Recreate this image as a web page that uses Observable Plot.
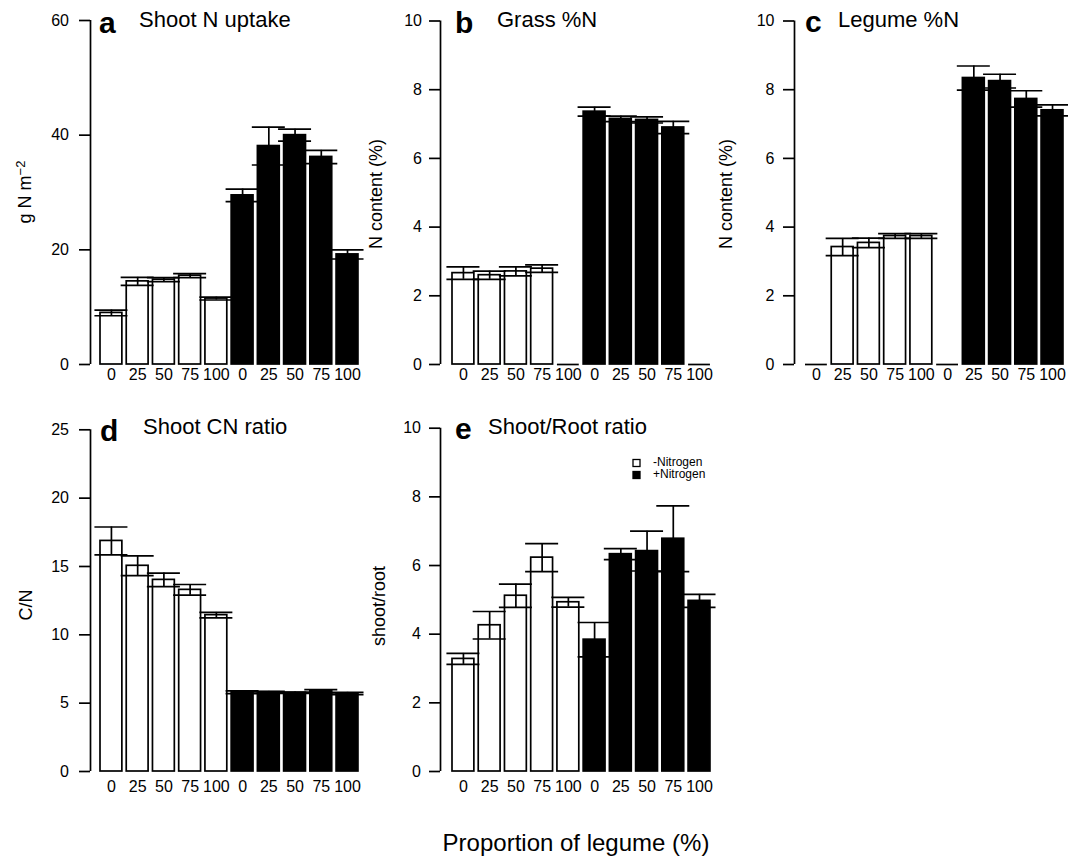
<!DOCTYPE html>
<html>
<head>
<meta charset="utf-8">
<script src="https://cdn.jsdelivr.net/npm/d3@7"></script>
<script src="https://cdn.jsdelivr.net/npm/@observablehq/plot@0.6"></script>
<style>
  body { margin: 0; background: #fff; }
  #wrap { position: relative; width: 1068px; height: 858px; overflow: hidden; background: #fff; }
</style>
</head>
<body>
<div id="wrap"></div>
<script>
// ---------- data ----------
const legume = ["0", "25", "50", "75", "100"];
const nitrogen = ["-Nitrogen", "+Nitrogen"];

// a: Shoot N uptake (g N m-2)
const uptakeMean = [9.0, 14.5, 14.8, 15.5, 11.5, 29.5, 38.1, 40.0, 36.2, 19.2];
const uptakeSE   = [0.5, 0.7, 0.35, 0.35, 0.25, 1.1, 3.3, 1.05, 1.15, 0.8];
// b: Grass %N
const grassMean = [2.66, 2.60, 2.71, 2.79, 0, 7.36, 7.15, 7.12, 6.90, 0];
const grassSE   = [0.18, 0.12, 0.13, 0.11, null, 0.13, 0.08, 0.09, 0.18, null];
// c: Legume %N
const legMean = [0, 3.42, 3.54, 3.74, 3.74, 0, 8.34, 8.25, 7.73, 7.40];
const legSE   = [null, 0.25, 0.14, 0.07, 0.07, null, 0.35, 0.20, 0.24, 0.16];
// d: Shoot C/N ratio
const cnMean = [16.87, 15.05, 14.02, 13.29, 11.44, 5.80, 5.80, 5.76, 5.87, 5.71];
const cnSE   = [1.02, 0.72, 0.50, 0.39, 0.20, 0.10, 0.06, 0.05, 0.12, 0.08];
// e: Shoot/Root ratio
const srMean = [3.28, 4.26, 5.12, 6.23, 4.93, 3.84, 6.33, 6.42, 6.78, 4.97];
const srSE   = [0.16, 0.40, 0.34, 0.41, 0.14, 0.50, 0.16, 0.58, 0.96, 0.19];

const ticksA = [0, 20, 40, 60];
const ticksPct = [0, 2, 4, 6, 8, 10];
const ticksCN = [0, 5, 10, 15, 20, 25];

// ---------- drawing ----------
const fontFam = "'Liberation Sans', Arial, Helvetica, sans-serif";
const wrap = document.getElementById("wrap");
const ppu = 21.86; // pixels per barplot unit (bar width 1, space 0.2)
const LW = 1.7;

function panel(p) {
  const rows = d3.range(10).map(i => ({
    label: legume[i % 5],
    group: i < 5 ? nitrogen[0] : nitrogen[1],
    x1: 0.2 + 1.2 * i, x2: 1.2 + 1.2 * i, c: 0.7 + 1.2 * i,
    mean: p.means[i], se: p.ses[i]
  }));
  const bars = rows.filter(d => d.mean > 0);
  const zeros = rows.filter(d => d.mean === 0);
  const err = rows.filter(d => d.se != null);
  const r0 = p.bar0Left - p.svgLeft;
  const xAxisVal = 0.2 - (p.bar0Left - p.axisX) / ppu;
  const centers = rows.map(d => d.c);
  const chart = Plot.plot({
    width: p.width,
    height: p.height,
    marginLeft: p.axisX - p.svgLeft,
    marginRight: 0,
    marginTop: p.yTop - p.svgTop,
    marginBottom: p.svgTop + p.height - p.y0,
    x: {domain: [0.2, 12.0], range: [r0, r0 + 11.8 * ppu]},
    y: {domain: [0, p.ymax]},
    color: {domain: nitrogen, range: ["white", "black"]},
    style: {background: "transparent", overflow: "visible", fontFamily: fontFam, fontSize: "16px", color: "black"},
    marks: [
      Plot.rect(bars, {x1: "x1", x2: "x2", y1: 0, y2: "mean", fill: "group", stroke: "black", strokeWidth: LW}),
      Plot.ruleY(zeros, {x1: "x1", x2: "x2", y: 0, stroke: "black", strokeWidth: LW}),
      Plot.ruleX(err, {x: "c", y1: d => d.mean - d.se, y2: d => d.mean + d.se, stroke: "black", strokeWidth: LW}),
      Plot.ruleY(err, {x1: d => d.c - 0.755, x2: d => d.c + 0.755, y: d => d.mean + d.se, stroke: "black", strokeWidth: LW}),
      Plot.ruleY(err, {x1: d => d.c - 0.755, x2: d => d.c + 0.755, y: d => d.mean - d.se, stroke: "black", strokeWidth: LW}),
      Plot.ruleX([xAxisVal], {y1: 0, y2: p.ymax, stroke: "black", strokeWidth: LW}),
      Plot.axisY({ticks: p.ticks, tickSize: 11, tickPadding: p.yPad, strokeWidth: LW, label: null, fill: "black"}),
      Plot.axisX({ticks: centers, tickFormat: c => rows[Math.round((c - 0.7) / 1.2)].label, tickSize: 0, tickPadding: p.xPad, label: null, fill: "black"})
    ]
  });
  chart.style.position = "absolute";
  chart.style.left = p.svgLeft + "px";
  chart.style.top = p.svgTop + "px";
  wrap.appendChild(chart);
}

panel({svgLeft: 0, svgTop: 0, width: 375, height: 400, axisX: 90, bar0Left: 100, yTop: 20, y0: 364,
       ymax: 60, ticks: ticksA, means: uptakeMean, ses: uptakeSE, yPad: 10.5, xPad: 4});
panel({svgLeft: 375, svgTop: 0, width: 345, height: 400, axisX: 440, bar0Left: 452, yTop: 20.5, y0: 364,
       ymax: 10, ticks: ticksPct, means: grassMean, ses: grassSE, yPad: 7.5, xPad: 4});
panel({svgLeft: 720, svgTop: 0, width: 348, height: 400, axisX: 794, bar0Left: 805, yTop: 20.5, y0: 364,
       ymax: 10, ticks: ticksPct, means: legMean, ses: legSE, yPad: 9, xPad: 4});
panel({svgLeft: 0, svgTop: 400, width: 375, height: 420, axisX: 90, bar0Left: 100, yTop: 429.3, y0: 771,
       ymax: 25, ticks: ticksCN, means: cnMean, ses: cnSE, yPad: 10.5, xPad: 9});
panel({svgLeft: 375, svgTop: 400, width: 345, height: 420, axisX: 440, bar0Left: 452, yTop: 427.7, y0: 771,
       ymax: 10, ticks: ticksPct, means: srMean, ses: srSE, yPad: 8.5, xPad: 9});

// ---------- text overlay ----------
const ov = d3.select(wrap).append("svg")
  .attr("width", 1068).attr("height", 858)
  .style("position", "absolute").style("left", "0px").style("top", "0px")
  .style("font-family", fontFam).style("pointer-events", "none");

const titles = [
  {letter: "a", lx: 99, ly: 33, text: "Shoot N uptake", tx: 139, ty: 27},
  {letter: "b", lx: 455, ly: 33, text: "Grass %N", tx: 497, ty: 27},
  {letter: "c", lx: 805, ly: 32, text: "Legume %N", tx: 838, ty: 27},
  {letter: "d", lx: 100, ly: 441, text: "Shoot CN ratio", tx: 143, ty: 434},
  {letter: "e", lx: 455, ly: 439, text: "Shoot/Root ratio", tx: 488, ty: 434}
];
titles.forEach(t => {
  ov.append("text").attr("x", t.lx).attr("y", t.ly).attr("font-size", 30).attr("font-weight", "bold").text(t.letter);
  ov.append("text").attr("x", t.tx).attr("y", t.ty).attr("font-size", 22).text(t.text);
});

const ylabels = [
  {x: 31, y: 192, text: "g N m", sup: "\u22122"},
  {x: 382, y: 194, text: "N content (%)"},
  {x: 732, y: 194, text: "N content (%)"},
  {x: 32, y: 605, text: "C/N"},
  {x: 385, y: 606, text: "shoot/root"}
];
ylabels.forEach(l => {
  const t = ov.append("text").attr("transform", `translate(${l.x},${l.y}) rotate(-90)`)
    .attr("text-anchor", "middle").attr("font-size", 18).text(l.text);
  if (l.sup) t.append("tspan").attr("dy", "-0.5em").attr("font-size", 13).text(l.sup);
});

// legend
const leg = [
  {fill: "white", y: 463, label: "-Nitrogen"},
  {fill: "black", y: 475, label: "+Nitrogen"}
];
leg.forEach(l => {
  ov.append("rect").attr("x", 633).attr("y", l.y - 3.5).attr("width", 7).attr("height", 7)
    .attr("fill", l.fill).attr("stroke", "black").attr("stroke-width", 1.3);
  ov.append("text").attr("x", 653).attr("y", l.y + 3).attr("font-size", 12).text(l.label);
});

ov.append("text").attr("x", 576).attr("y", 851).attr("text-anchor", "middle").attr("font-size", 24)
  .text("Proportion of legume (%)");
</script>
</body>
</html>
